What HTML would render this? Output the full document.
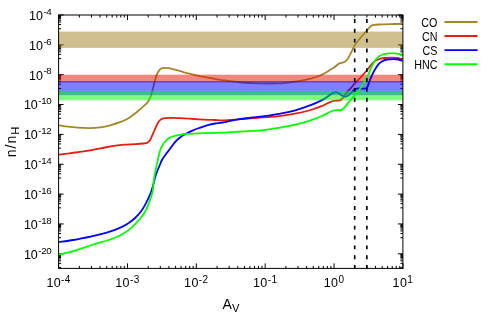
<!DOCTYPE html>
<html><head><meta charset="utf-8"><title>plot</title>
<style>
html,body{margin:0;padding:0;background:#fff;}
body{width:491px;height:327px;overflow:hidden;position:relative;font-family:"Liberation Sans",sans-serif;}
svg{will-change:transform;}
svg text{font-family:"Liberation Sans",sans-serif;fill:#000;}
</style></head><body>
<svg width="491" height="327" viewBox="0 0 491 327" style="position:absolute;left:0;top:0">
<rect width="491" height="327" fill="#fff"/>
<defs><clipPath id="c"><rect x="58.60" y="15.00" width="344.30" height="253.40"/></clipPath></defs>
<path d="M58.60,268.40v-5.00 M58.60,15.00v5.00 M79.33,268.40v-2.50 M79.33,15.00v2.50 M91.45,268.40v-2.50 M91.45,15.00v2.50 M100.06,268.40v-2.50 M100.06,15.00v2.50 M106.73,268.40v-2.50 M106.73,15.00v2.50 M112.18,268.40v-2.50 M112.18,15.00v2.50 M116.79,268.40v-2.50 M116.79,15.00v2.50 M120.79,268.40v-2.50 M120.79,15.00v2.50 M124.31,268.40v-2.50 M124.31,15.00v2.50 M127.46,268.40v-5.00 M127.46,15.00v5.00 M148.19,268.40v-2.50 M148.19,15.00v2.50 M160.31,268.40v-2.50 M160.31,15.00v2.50 M168.92,268.40v-2.50 M168.92,15.00v2.50 M175.59,268.40v-2.50 M175.59,15.00v2.50 M181.04,268.40v-2.50 M181.04,15.00v2.50 M185.65,268.40v-2.50 M185.65,15.00v2.50 M189.65,268.40v-2.50 M189.65,15.00v2.50 M193.17,268.40v-2.50 M193.17,15.00v2.50 M196.32,268.40v-5.00 M196.32,15.00v5.00 M217.05,268.40v-2.50 M217.05,15.00v2.50 M229.17,268.40v-2.50 M229.17,15.00v2.50 M237.78,268.40v-2.50 M237.78,15.00v2.50 M244.45,268.40v-2.50 M244.45,15.00v2.50 M249.90,268.40v-2.50 M249.90,15.00v2.50 M254.51,268.40v-2.50 M254.51,15.00v2.50 M258.51,268.40v-2.50 M258.51,15.00v2.50 M262.03,268.40v-2.50 M262.03,15.00v2.50 M265.18,268.40v-5.00 M265.18,15.00v5.00 M285.91,268.40v-2.50 M285.91,15.00v2.50 M298.03,268.40v-2.50 M298.03,15.00v2.50 M306.64,268.40v-2.50 M306.64,15.00v2.50 M313.31,268.40v-2.50 M313.31,15.00v2.50 M318.76,268.40v-2.50 M318.76,15.00v2.50 M323.37,268.40v-2.50 M323.37,15.00v2.50 M327.37,268.40v-2.50 M327.37,15.00v2.50 M330.89,268.40v-2.50 M330.89,15.00v2.50 M334.04,268.40v-5.00 M334.04,15.00v5.00 M354.77,268.40v-2.50 M354.77,15.00v2.50 M366.89,268.40v-2.50 M366.89,15.00v2.50 M375.50,268.40v-2.50 M375.50,15.00v2.50 M382.17,268.40v-2.50 M382.17,15.00v2.50 M387.62,268.40v-2.50 M387.62,15.00v2.50 M392.23,268.40v-2.50 M392.23,15.00v2.50 M396.23,268.40v-2.50 M396.23,15.00v2.50 M399.75,268.40v-2.50 M399.75,15.00v2.50 M402.90,268.40v-5.00 M402.90,15.00v5.00 M58.60,15.00h5.00 M402.90,15.00h-5.00 M58.60,28.74h2.50 M402.90,28.74h-2.50 M58.60,24.53h2.50 M402.90,24.53h-2.50 M58.60,21.99h2.50 M402.90,21.99h-2.50 M58.60,20.18h2.50 M402.90,20.18h-2.50 M58.60,18.76h2.50 M402.90,18.76h-2.50 M58.60,17.60h2.50 M402.90,17.60h-2.50 M58.60,16.61h2.50 M402.90,16.61h-2.50 M58.60,15.76h2.50 M402.90,15.76h-2.50 M58.60,44.85h5.00 M402.90,44.85h-5.00 M58.60,58.59h2.50 M402.90,58.59h-2.50 M58.60,54.38h2.50 M402.90,54.38h-2.50 M58.60,51.84h2.50 M402.90,51.84h-2.50 M58.60,50.03h2.50 M402.90,50.03h-2.50 M58.60,48.61h2.50 M402.90,48.61h-2.50 M58.60,47.45h2.50 M402.90,47.45h-2.50 M58.60,46.46h2.50 M402.90,46.46h-2.50 M58.60,45.61h2.50 M402.90,45.61h-2.50 M58.60,74.70h5.00 M402.90,74.70h-5.00 M58.60,88.44h2.50 M402.90,88.44h-2.50 M58.60,84.23h2.50 M402.90,84.23h-2.50 M58.60,81.69h2.50 M402.90,81.69h-2.50 M58.60,79.88h2.50 M402.90,79.88h-2.50 M58.60,78.46h2.50 M402.90,78.46h-2.50 M58.60,77.30h2.50 M402.90,77.30h-2.50 M58.60,76.31h2.50 M402.90,76.31h-2.50 M58.60,75.46h2.50 M402.90,75.46h-2.50 M58.60,104.55h5.00 M402.90,104.55h-5.00 M58.60,118.29h2.50 M402.90,118.29h-2.50 M58.60,114.08h2.50 M402.90,114.08h-2.50 M58.60,111.54h2.50 M402.90,111.54h-2.50 M58.60,109.73h2.50 M402.90,109.73h-2.50 M58.60,108.31h2.50 M402.90,108.31h-2.50 M58.60,107.15h2.50 M402.90,107.15h-2.50 M58.60,106.16h2.50 M402.90,106.16h-2.50 M58.60,105.31h2.50 M402.90,105.31h-2.50 M58.60,134.40h5.00 M402.90,134.40h-5.00 M58.60,148.14h2.50 M402.90,148.14h-2.50 M58.60,143.93h2.50 M402.90,143.93h-2.50 M58.60,141.39h2.50 M402.90,141.39h-2.50 M58.60,139.58h2.50 M402.90,139.58h-2.50 M58.60,138.16h2.50 M402.90,138.16h-2.50 M58.60,137.00h2.50 M402.90,137.00h-2.50 M58.60,136.01h2.50 M402.90,136.01h-2.50 M58.60,135.16h2.50 M402.90,135.16h-2.50 M58.60,164.25h5.00 M402.90,164.25h-5.00 M58.60,177.99h2.50 M402.90,177.99h-2.50 M58.60,173.78h2.50 M402.90,173.78h-2.50 M58.60,171.24h2.50 M402.90,171.24h-2.50 M58.60,169.43h2.50 M402.90,169.43h-2.50 M58.60,168.01h2.50 M402.90,168.01h-2.50 M58.60,166.85h2.50 M402.90,166.85h-2.50 M58.60,165.86h2.50 M402.90,165.86h-2.50 M58.60,165.01h2.50 M402.90,165.01h-2.50 M58.60,194.10h5.00 M402.90,194.10h-5.00 M58.60,207.84h2.50 M402.90,207.84h-2.50 M58.60,203.63h2.50 M402.90,203.63h-2.50 M58.60,201.09h2.50 M402.90,201.09h-2.50 M58.60,199.28h2.50 M402.90,199.28h-2.50 M58.60,197.86h2.50 M402.90,197.86h-2.50 M58.60,196.70h2.50 M402.90,196.70h-2.50 M58.60,195.71h2.50 M402.90,195.71h-2.50 M58.60,194.86h2.50 M402.90,194.86h-2.50 M58.60,223.95h5.00 M402.90,223.95h-5.00 M58.60,237.69h2.50 M402.90,237.69h-2.50 M58.60,233.48h2.50 M402.90,233.48h-2.50 M58.60,230.94h2.50 M402.90,230.94h-2.50 M58.60,229.13h2.50 M402.90,229.13h-2.50 M58.60,227.71h2.50 M402.90,227.71h-2.50 M58.60,226.55h2.50 M402.90,226.55h-2.50 M58.60,225.56h2.50 M402.90,225.56h-2.50 M58.60,224.71h2.50 M402.90,224.71h-2.50 M58.60,253.80h5.00 M402.90,253.80h-5.00 M58.60,267.54h2.50 M402.90,267.54h-2.50 M58.60,263.33h2.50 M402.90,263.33h-2.50 M58.60,260.79h2.50 M402.90,260.79h-2.50 M58.60,258.98h2.50 M402.90,258.98h-2.50 M58.60,257.56h2.50 M402.90,257.56h-2.50 M58.60,256.40h2.50 M402.90,256.40h-2.50 M58.60,255.41h2.50 M402.90,255.41h-2.50 M58.60,254.56h2.50 M402.90,254.56h-2.50" stroke="#000" stroke-width="1" fill="none"/>
<g clip-path="url(#c)">
<rect x="58.60" y="31.60" width="344.30" height="16.30" fill="#A08020" fill-opacity="0.5"/>
<path d="M59.00,125.30 C60.50,125.53 64.83,126.30 68.00,126.70 C71.17,127.10 74.35,127.47 78.00,127.70 C81.65,127.93 86.23,128.17 89.90,128.10 C93.57,128.03 96.63,127.77 100.00,127.30 C103.37,126.83 106.77,126.15 110.10,125.30 C113.43,124.45 116.93,123.38 120.00,122.20 C123.07,121.02 125.83,119.77 128.50,118.20 C131.17,116.63 133.52,114.77 136.00,112.80 C138.48,110.83 141.40,108.23 143.40,106.40 C145.40,104.57 146.78,103.48 148.00,101.80 C149.22,100.12 149.93,98.28 150.70,96.30 C151.47,94.32 151.98,92.18 152.60,89.90 C153.22,87.62 153.80,84.90 154.40,82.60 C155.00,80.30 155.58,77.88 156.20,76.10 C156.82,74.32 157.33,73.12 158.10,71.90 C158.87,70.68 159.73,69.47 160.80,68.80 C161.87,68.13 163.12,68.00 164.50,67.90 C165.88,67.80 166.50,67.65 169.10,68.20 C171.70,68.75 176.73,70.28 180.10,71.20 C183.47,72.12 186.23,72.93 189.30,73.70 C192.37,74.47 195.43,75.15 198.50,75.80 C201.57,76.45 204.95,77.08 207.70,77.60 C210.45,78.12 212.38,78.45 215.00,78.90 C217.62,79.35 218.95,79.70 223.40,80.30 C227.85,80.90 235.58,81.98 241.70,82.50 C247.82,83.02 253.97,83.25 260.10,83.40 C266.23,83.55 274.35,83.50 278.50,83.40 C282.65,83.30 281.88,83.13 285.00,82.80 C288.12,82.47 293.13,82.05 297.20,81.40 C301.27,80.75 305.32,80.00 309.40,78.90 C313.48,77.80 317.62,76.72 321.70,74.80 C325.78,72.88 330.97,69.30 333.90,67.40 C336.83,65.50 337.70,64.23 339.30,63.40 C340.90,62.57 342.17,63.05 343.50,62.40 C344.83,61.75 346.05,61.10 347.30,59.50 C348.55,57.90 349.77,55.15 351.00,52.80 C352.23,50.45 353.48,47.45 354.70,45.40 C355.92,43.35 356.88,42.30 358.30,40.50 C359.72,38.70 361.75,36.27 363.20,34.60 C364.65,32.93 365.80,31.85 367.00,30.50 C368.20,29.15 369.40,27.38 370.40,26.50 C371.40,25.62 371.60,25.53 373.00,25.20 C374.40,24.87 375.97,24.68 378.80,24.50 C381.63,24.32 386.03,24.20 390.00,24.10 C393.97,24.00 400.50,23.93 402.60,23.90" stroke="#A6862C" stroke-width="1.8" fill="none" stroke-linejoin="round"/>
<rect x="58.60" y="74.70" width="344.30" height="7.90" fill="#E61000" fill-opacity="0.5"/>
<path d="M59.00,154.70 C61.67,154.33 69.55,153.27 75.00,152.50 C80.45,151.73 86.70,150.93 91.70,150.10 C96.70,149.27 100.40,148.32 105.00,147.50 C109.60,146.68 115.97,145.68 119.30,145.20 C122.63,144.72 122.22,144.78 125.00,144.60 C127.78,144.42 132.93,144.28 136.00,144.10 C139.07,143.92 141.50,143.73 143.40,143.50 C145.30,143.27 146.32,143.23 147.40,142.70 C148.48,142.17 149.18,141.32 149.90,140.30 C150.62,139.28 151.08,137.93 151.70,136.60 C152.32,135.27 152.98,133.72 153.60,132.30 C154.22,130.88 154.80,129.43 155.40,128.10 C156.00,126.77 156.60,125.45 157.20,124.30 C157.80,123.15 158.33,122.03 159.00,121.20 C159.67,120.37 160.28,119.80 161.20,119.30 C162.12,118.80 162.88,118.45 164.50,118.20 C166.12,117.95 168.30,117.80 170.90,117.80 C173.50,117.80 177.03,118.05 180.10,118.20 C183.17,118.35 186.23,118.52 189.30,118.70 C192.37,118.88 195.43,119.12 198.50,119.30 C201.57,119.48 204.95,119.68 207.70,119.80 C210.45,119.92 212.38,119.92 215.00,120.00 C217.62,120.08 219.55,120.42 223.40,120.30 C227.25,120.18 231.98,119.77 238.10,119.30 C244.22,118.83 253.28,118.02 260.10,117.50 C266.92,116.98 273.18,116.83 279.00,116.20 C284.82,115.57 289.73,114.73 295.00,113.70 C300.27,112.67 306.10,111.30 310.60,110.00 C315.10,108.70 319.18,107.03 322.00,105.90 C324.82,104.77 325.67,104.02 327.50,103.20 C329.33,102.38 331.32,101.43 333.00,101.00 C334.68,100.57 336.37,100.75 337.60,100.60 C338.83,100.45 339.63,100.43 340.40,100.10 C341.17,99.77 341.60,99.23 342.20,98.60 C342.80,97.97 343.32,97.22 344.00,96.30 C344.68,95.38 345.53,94.10 346.30,93.10 C347.07,92.10 347.82,91.17 348.60,90.30 C349.38,89.43 349.88,89.15 351.00,87.90 C352.12,86.65 353.65,84.58 355.30,82.80 C356.95,81.02 359.07,79.17 360.90,77.20 C362.73,75.23 364.78,72.82 366.30,71.00 C367.82,69.18 368.78,67.75 370.00,66.30 C371.22,64.85 372.27,63.43 373.60,62.30 C374.93,61.17 376.25,60.22 378.00,59.50 C379.75,58.78 381.82,58.32 384.10,58.00 C386.38,57.68 389.40,57.60 391.70,57.60 C394.00,57.60 396.10,57.68 397.90,58.00 C399.70,58.32 401.73,59.25 402.50,59.50" stroke="#E81C10" stroke-width="1.8" fill="none" stroke-linejoin="round"/>
<rect x="58.60" y="81.00" width="344.30" height="14.20" fill="#0000FF" fill-opacity="0.5"/>
<path d="M59.00,241.90 C61.40,241.58 67.95,240.92 73.40,240.00 C78.85,239.08 86.43,237.53 91.70,236.40 C96.97,235.27 101.12,234.28 105.00,233.20 C108.88,232.12 112.18,230.95 115.00,229.90 C117.82,228.85 119.60,228.05 121.90,226.90 C124.20,225.75 126.52,224.57 128.80,223.00 C131.08,221.43 133.55,219.45 135.60,217.50 C137.65,215.55 139.48,213.48 141.10,211.30 C142.72,209.12 144.03,206.68 145.30,204.40 C146.57,202.12 147.67,199.88 148.70,197.60 C149.73,195.32 150.73,192.88 151.50,190.70 C152.27,188.52 152.70,186.70 153.30,184.50 C153.90,182.30 154.38,179.87 155.10,177.50 C155.82,175.13 156.82,172.38 157.60,170.30 C158.38,168.22 159.05,166.75 159.80,165.00 C160.55,163.25 161.13,161.55 162.10,159.80 C163.07,158.05 164.37,156.22 165.60,154.50 C166.83,152.78 168.03,151.45 169.50,149.50 C170.97,147.55 172.77,144.72 174.40,142.80 C176.03,140.88 177.53,139.43 179.30,138.00 C181.07,136.57 182.72,135.48 185.00,134.20 C187.28,132.92 190.45,131.40 193.00,130.30 C195.55,129.20 197.85,128.45 200.30,127.60 C202.75,126.75 205.25,125.88 207.70,125.20 C210.15,124.52 212.38,123.98 215.00,123.50 C217.62,123.02 219.55,123.00 223.40,122.30 C227.25,121.60 231.98,120.25 238.10,119.30 C244.22,118.35 253.28,117.52 260.10,116.60 C266.92,115.68 273.13,114.85 279.00,113.80 C284.87,112.75 290.03,111.73 295.30,110.30 C300.57,108.87 306.15,106.90 310.60,105.20 C315.05,103.50 319.33,101.43 322.00,100.10 C324.67,98.77 325.07,98.22 326.60,97.20 C328.13,96.18 329.98,94.77 331.20,94.00 C332.42,93.23 333.07,92.90 333.90,92.60 C334.73,92.30 335.43,92.13 336.20,92.20 C336.97,92.27 337.65,92.50 338.50,93.00 C339.35,93.50 340.38,94.63 341.30,95.20 C342.22,95.77 343.17,96.20 344.00,96.40 C344.83,96.60 345.53,96.60 346.30,96.40 C347.07,96.20 347.75,95.83 348.60,95.20 C349.45,94.57 350.55,93.42 351.40,92.60 C352.25,91.78 352.93,90.92 353.70,90.30 C354.47,89.68 355.05,89.22 356.00,88.90 C356.95,88.58 358.07,88.43 359.40,88.40 C360.73,88.37 362.85,88.72 364.00,88.70 C365.15,88.68 365.70,88.67 366.30,88.30 C366.90,87.93 367.08,87.63 367.60,86.50 C368.12,85.37 368.72,83.25 369.40,81.50 C370.08,79.75 370.80,77.95 371.70,76.00 C372.60,74.05 373.75,71.65 374.80,69.80 C375.85,67.95 376.83,66.28 378.00,64.90 C379.17,63.52 380.28,62.40 381.80,61.50 C383.32,60.60 385.18,59.90 387.10,59.50 C389.02,59.10 391.38,59.10 393.30,59.10 C395.22,59.10 397.07,59.17 398.60,59.50 C400.13,59.83 401.85,60.83 402.50,61.10" stroke="#0000FF" stroke-width="1.8" fill="none" stroke-linejoin="round"/>
<rect x="58.60" y="90.90" width="344.30" height="9.40" fill="#00FF00" fill-opacity="0.5"/>
<path d="M59.00,254.60 C61.40,254.02 67.95,252.70 73.40,251.10 C78.85,249.50 85.58,246.93 91.70,245.00 C97.82,243.07 105.30,241.13 110.10,239.50 C114.90,237.87 117.38,236.80 120.50,235.20 C123.62,233.60 126.28,231.82 128.80,229.90 C131.32,227.98 133.55,225.77 135.60,223.70 C137.65,221.63 139.48,219.57 141.10,217.50 C142.72,215.43 144.03,213.58 145.30,211.30 C146.57,209.02 147.75,206.20 148.70,203.80 C149.65,201.40 150.32,199.08 151.00,196.90 C151.68,194.72 152.33,193.47 152.80,190.70 C153.27,187.93 153.30,183.87 153.80,180.30 C154.30,176.73 155.12,172.75 155.80,169.30 C156.48,165.85 157.25,162.52 157.90,159.60 C158.55,156.68 159.00,154.10 159.70,151.80 C160.40,149.50 161.18,147.52 162.10,145.80 C163.02,144.08 163.97,142.83 165.20,141.50 C166.43,140.17 167.97,138.72 169.50,137.80 C171.03,136.88 172.57,136.50 174.40,136.00 C176.23,135.50 178.73,135.15 180.50,134.80 C182.27,134.45 182.00,134.13 185.00,133.90 C188.00,133.67 193.50,133.58 198.50,133.40 C203.50,133.22 210.85,132.93 215.00,132.80 C219.15,132.67 218.95,132.82 223.40,132.60 C227.85,132.38 235.58,131.87 241.70,131.50 C247.82,131.13 253.88,131.02 260.10,130.40 C266.32,129.78 273.13,128.75 279.00,127.80 C284.87,126.85 290.03,125.95 295.30,124.70 C300.57,123.45 306.15,121.75 310.60,120.30 C315.05,118.85 319.18,117.17 322.00,116.00 C324.82,114.83 325.67,114.20 327.50,113.30 C329.33,112.40 331.47,111.13 333.00,110.60 C334.53,110.07 335.47,110.15 336.70,110.10 C337.93,110.05 339.40,110.43 340.40,110.30 C341.40,110.17 341.78,110.03 342.70,109.30 C343.62,108.57 344.77,107.23 345.90,105.90 C347.03,104.57 348.28,102.75 349.50,101.30 C350.72,99.85 352.05,98.45 353.20,97.20 C354.35,95.95 355.12,95.40 356.40,93.80 C357.68,92.20 359.47,89.78 360.90,87.60 C362.33,85.42 363.77,82.85 365.00,80.70 C366.23,78.55 367.25,76.90 368.30,74.70 C369.35,72.50 370.30,69.67 371.30,67.50 C372.30,65.33 373.18,63.42 374.30,61.70 C375.42,59.98 376.62,58.40 378.00,57.20 C379.38,56.00 380.82,55.13 382.60,54.50 C384.38,53.87 386.67,53.58 388.70,53.40 C390.73,53.22 393.02,53.27 394.80,53.40 C396.58,53.53 398.12,53.82 399.40,54.20 C400.68,54.58 401.98,55.45 402.50,55.70" stroke="#00FF00" stroke-width="1.8" fill="none" stroke-linejoin="round"/>
</g>
<path d="M354.70,269.00V15.00" stroke="#000" stroke-width="1.65" stroke-dasharray="3.9 5.944" fill="none"/>
<path d="M366.85,269.00V15.00" stroke="#000" stroke-width="1.65" stroke-dasharray="3.9 5.944" fill="none"/>
<rect x="58.60" y="15.00" width="344.30" height="253.40" fill="none" stroke="#000" stroke-width="1"/>
<path d="M444.5,22.00H477.6" stroke="#A6862C" stroke-width="1.9"/>
<text transform="translate(437.4,26.50) scale(0.86,1)" x="0" y="0" text-anchor="end" font-size="12.5">CO</text>
<path d="M444.5,36.00H477.6" stroke="#E81C10" stroke-width="1.9"/>
<text transform="translate(437.4,40.50) scale(0.86,1)" x="0" y="0" text-anchor="end" font-size="12.5">CN</text>
<path d="M444.5,50.10H477.6" stroke="#0000FF" stroke-width="1.9"/>
<text transform="translate(437.4,54.60) scale(0.86,1)" x="0" y="0" text-anchor="end" font-size="12.5">CS</text>
<path d="M444.5,64.30H477.6" stroke="#00FF00" stroke-width="1.9"/>
<text transform="translate(437.4,68.80) scale(0.86,1)" x="0" y="0" text-anchor="end" font-size="12.5">HNC</text>
<text x="51.5" y="19.90" text-anchor="end" font-size="12.5">10<tspan font-size="9.8" dy="-5.2" dx="0.4" letter-spacing="-0.3">-4</tspan></text>
<text x="51.5" y="49.75" text-anchor="end" font-size="12.5">10<tspan font-size="9.8" dy="-5.2" dx="0.4" letter-spacing="-0.3">-6</tspan></text>
<text x="51.5" y="79.60" text-anchor="end" font-size="12.5">10<tspan font-size="9.8" dy="-5.2" dx="0.4" letter-spacing="-0.3">-8</tspan></text>
<text x="51.5" y="109.45" text-anchor="end" font-size="12.5">10<tspan font-size="9.8" dy="-5.2" dx="0.4" letter-spacing="-0.3">-10</tspan></text>
<text x="51.5" y="139.30" text-anchor="end" font-size="12.5">10<tspan font-size="9.8" dy="-5.2" dx="0.4" letter-spacing="-0.3">-12</tspan></text>
<text x="51.5" y="169.15" text-anchor="end" font-size="12.5">10<tspan font-size="9.8" dy="-5.2" dx="0.4" letter-spacing="-0.3">-14</tspan></text>
<text x="51.5" y="199.00" text-anchor="end" font-size="12.5">10<tspan font-size="9.8" dy="-5.2" dx="0.4" letter-spacing="-0.3">-16</tspan></text>
<text x="51.5" y="228.85" text-anchor="end" font-size="12.5">10<tspan font-size="9.8" dy="-5.2" dx="0.4" letter-spacing="-0.3">-18</tspan></text>
<text x="51.5" y="258.70" text-anchor="end" font-size="12.5">10<tspan font-size="9.8" dy="-5.2" dx="0.4" letter-spacing="-0.3">-20</tspan></text>
<text x="58.60" y="287.4" text-anchor="middle" font-size="12.5" letter-spacing="0.4">10<tspan font-size="10" dy="-4.9">-4</tspan></text>
<text x="127.46" y="287.4" text-anchor="middle" font-size="12.5" letter-spacing="0.4">10<tspan font-size="10" dy="-4.9">-3</tspan></text>
<text x="196.32" y="287.4" text-anchor="middle" font-size="12.5" letter-spacing="0.4">10<tspan font-size="10" dy="-4.9">-2</tspan></text>
<text x="265.18" y="287.4" text-anchor="middle" font-size="12.5" letter-spacing="0.4">10<tspan font-size="10" dy="-4.9">-1</tspan></text>
<text x="334.04" y="287.4" text-anchor="middle" font-size="12.5" letter-spacing="0.4">10<tspan font-size="10" dy="-4.9">0</tspan></text>
<text x="402.90" y="287.4" text-anchor="middle" font-size="12.5" letter-spacing="0.4">10<tspan font-size="10" dy="-4.9">1</tspan></text>
<text x="222.6" y="308.8" font-size="14">A<tspan font-size="11.2" dy="3.4">V</tspan></text>
<text transform="translate(16.1,157.3) rotate(-90)" font-size="14" letter-spacing="1">n/n<tspan font-size="11.2" dy="2.6" letter-spacing="0">H</tspan></text>
</svg>
</body></html>
